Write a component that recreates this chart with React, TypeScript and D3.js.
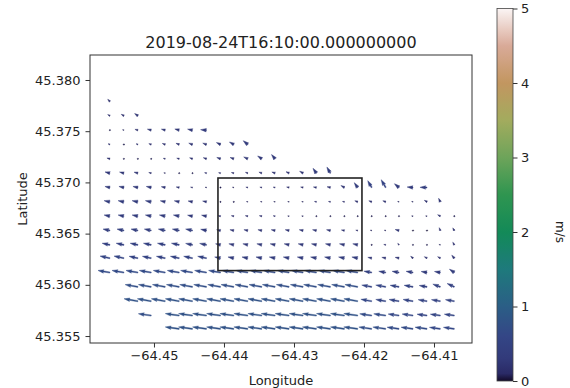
import React, { useEffect, useRef } from 'react';
import * as d3 from 'd3';

const _ = null;

// grid node longitudes (columns) and latitudes (rows, north to south)
const lons = [
  -64.4563, -64.4543, -64.4523, -64.4504, -64.4484, -64.4464, -64.4445, -64.4425, -64.4405,
  -64.4386, -64.4366, -64.4346, -64.4327, -64.4307, -64.4287, -64.4268, -64.4248, -64.4228,
  -64.4209, -64.4189, -64.4169, -64.415, -64.413, -64.411, -64.4091, -64.4071,
];
const lats = [
  45.3779, 45.3765, 45.3751, 45.3737, 45.3723, 45.3709, 45.3695, 45.3681, 45.3667,
  45.3653, 45.3639, 45.3626, 45.3612, 45.3598, 45.3584, 45.3570, 45.3557,
];

// current speed (m/s), null = no data
const speed: (number | null)[][] = [
  [0.17, _, _, _, _, _, _, _, _, _, _, _, _, _, _, _, _, _, _, _, _, _, _, _, _, _],
  [0.14, 0.17, 0.22, _, _, _, _, _, _, _, _, _, _, _, _, _, _, _, _, _, _, _, _, _, _, _],
  [0.06, 0.08, 0.17, 0.22, 0.22, 0.25, 0.28, 0.33, _, _, _, _, _, _, _, _, _, _, _, _, _, _, _, _, _, _],
  [0.11, 0.06, 0.11, 0.14, 0.17, 0.19, 0.22, 0.22, 0.25, 0.28, 0.33, _, _, _, _, _, _, _, _, _, _, _, _, _, _, _],
  [0.17, 0.06, 0.06, 0.06, 0.11, 0.14, 0.17, 0.19, 0.22, 0.22, 0.25, 0.28, 0.31, _, _, _, _, _, _, _, _, _, _, _, _, _],
  [0.28, 0.25, 0.22, 0.14, 0.08, 0.06, 0.06, 0.11, 0.11, 0.14, 0.14, 0.17, 0.19, 0.19, 0.22, 0.33, 0.39, _, _, _, _, _, _, _, _, _],
  [0.28, 0.28, 0.28, 0.28, 0.22, 0.17, 0.11, 0.08, 0.06, 0.08, 0.11, 0.11, 0.11, 0.14, 0.14, 0.17, 0.19, 0.22, 0.33, 0.44, 0.5, 0.33, 0.33, 0.39, _, _],
  [0.33, 0.33, 0.33, 0.33, 0.28, 0.28, 0.25, 0.22, 0.06, 0.06, 0.08, 0.08, 0.08, 0.08, 0.08, 0.11, 0.11, 0.11, 0.17, 0.17, 0.17, 0.08, 0.08, 0.17, 0.22, _],
  [0.33, 0.33, 0.33, 0.33, 0.33, 0.33, 0.28, 0.28, 0.14, 0.14, 0.14, 0.14, 0.11, 0.08, 0.08, 0.06, 0.06, 0.06, 0.06, 0.06, 0.06, 0.06, 0.08, 0.08, 0.17, 0.06],
  [0.39, 0.39, 0.39, 0.39, 0.39, 0.39, 0.39, 0.33, 0.22, 0.22, 0.22, 0.22, 0.22, 0.22, 0.22, 0.22, 0.22, 0.17, 0.11, 0.08, 0.08, 0.22, 0.03, 0.03, 0.17, 0.17],
  [0.44, 0.44, 0.44, 0.44, 0.44, 0.44, 0.39, 0.39, 0.28, 0.28, 0.28, 0.28, 0.28, 0.28, 0.28, 0.28, 0.28, 0.28, 0.28, 0.06, 0.11, 0.11, 0.06, 0.06, 0.08, 0.17],
  [0.56, 0.56, 0.5, 0.5, 0.5, 0.5, 0.5, 0.5, 0.33, 0.33, 0.33, 0.33, 0.33, 0.33, 0.33, 0.33, 0.33, 0.33, 0.33, 0.22, 0.22, 0.22, 0.17, 0.17, 0.17, 0.22],
  [0.67, 0.67, 0.67, 0.67, 0.67, 0.67, 0.67, 0.67, 0.67, 0.67, 0.67, 0.67, 0.67, 0.67, 0.67, 0.67, 0.67, 0.67, 0.67, 0.44, 0.39, 0.39, 0.39, 0.33, 0.33, 0.33],
  [_, _, 0.72, 0.72, 0.72, 0.72, 0.72, 0.72, 0.72, 0.72, 0.72, 0.72, 0.72, 0.72, 0.72, 0.72, 0.72, 0.72, 0.72, 0.56, 0.56, 0.5, 0.5, 0.44, 0.44, 0.44],
  [_, _, 0.78, 0.78, 0.78, 0.78, 0.78, 0.78, 0.78, 0.78, 0.78, 0.78, 0.78, 0.78, 0.78, 0.78, 0.78, 0.78, 0.78, 0.61, 0.56, 0.56, 0.56, 0.5, 0.5, 0.5],
  [_, _, _, 0.72, _, 0.78, 0.78, 0.78, 0.78, 0.78, 0.78, 0.78, 0.78, 0.78, 0.78, 0.78, 0.78, 0.78, 0.78, 0.67, 0.67, 0.61, 0.61, 0.56, 0.56, 0.56],
  [_, _, _, _, _, 0.78, 0.78, 0.78, 0.78, 0.78, 0.78, 0.78, 0.78, 0.78, 0.78, 0.78, 0.78, 0.78, 0.78, 0.72, 0.72, 0.67, 0.67, 0.67, 0.61, 0.61],
];

// flow direction, degrees counter-clockwise from east
const heading: number[][] = [
  [135, 165, 165, 165, 165, 165, 165, 165, 165, 165, 165, 165, 165, 165, 165, 165, 165, 165, 165, 165, 165, 165, 165, 165, 165, 165],
  [150, 150, 145, 165, 165, 165, 165, 165, 165, 165, 165, 165, 165, 165, 165, 165, 165, 165, 165, 165, 165, 165, 165, 165, 165, 165],
  [165, 165, 165, 165, 165, 165, 168, 175, 165, 165, 165, 165, 165, 165, 165, 165, 165, 165, 165, 165, 165, 165, 165, 165, 165, 165],
  [160, 165, 160, 160, 160, 160, 160, 160, 155, 150, 140, 165, 165, 165, 165, 165, 165, 165, 165, 165, 165, 165, 165, 165, 165, 165],
  [165, 165, 165, 165, 165, 165, 160, 160, 160, 160, 155, 145, 130, 165, 165, 165, 165, 165, 165, 165, 165, 165, 165, 165, 165, 165],
  [165, 165, 165, 165, 165, 165, 165, 165, 165, 165, 160, 160, 160, 155, 150, 125, 120, 165, 165, 165, 165, 165, 165, 165, 165, 165],
  [168, 168, 168, 168, 168, 168, 168, 168, 168, 168, 168, 168, 168, 168, 168, 168, 168, 150, 125, 120, 120, 140, 175, 178, 165, 165],
  [168, 168, 168, 168, 168, 168, 168, 168, 168, 168, 168, 168, 168, 168, 168, 168, 168, 168, 160, 160, 160, 165, 165, 150, 115, 165],
  [168, 168, 168, 168, 168, 168, 168, 168, 168, 168, 168, 168, 168, 168, 168, 168, 168, 168, 168, 168, 168, 168, 168, 168, 150, 120],
  [168, 168, 168, 168, 168, 168, 168, 168, 168, 168, 168, 168, 168, 168, 168, 168, 168, 168, 168, 168, 168, 165, 165, 165, 110, 120],
  [168, 168, 168, 168, 168, 168, 168, 168, 168, 168, 168, 168, 168, 168, 168, 168, 168, 168, 168, 168, 168, 130, 165, 165, 165, 120],
  [168, 168, 168, 168, 168, 168, 168, 168, 168, 168, 168, 168, 168, 168, 168, 168, 168, 168, 168, 168, 168, 168, 140, 150, 150, 130],
  [170, 170, 170, 170, 170, 170, 170, 170, 170, 170, 170, 170, 170, 170, 170, 170, 170, 170, 170, 170, 170, 170, 170, 170, 170, 145],
  [170, 170, 170, 170, 170, 170, 170, 170, 170, 170, 170, 170, 170, 170, 170, 170, 170, 170, 170, 170, 170, 170, 170, 170, 160, 155],
  [170, 170, 170, 170, 170, 170, 170, 170, 170, 170, 170, 170, 170, 170, 170, 170, 170, 170, 170, 170, 170, 170, 170, 170, 170, 170],
  [172, 172, 172, 172, 172, 172, 172, 172, 172, 172, 172, 172, 172, 172, 172, 172, 172, 172, 172, 172, 172, 172, 172, 172, 172, 172],
  [172, 172, 172, 172, 172, 172, 172, 172, 172, 172, 172, 172, 172, 172, 172, 172, 172, 172, 172, 172, 172, 172, 172, 172, 172, 172],
];

const lonTicks = [-64.45, -64.44, -64.43, -64.42, -64.41];
const latTicks = [45.355, 45.36, 45.365, 45.37, 45.375, 45.38];
const speedTicks = [0, 1, 2, 3, 4, 5];
const boxLon = [-64.44086, -64.42029];
const boxLat = [45.36139, 45.37043];
const title = '2019-08-24T16:10:00.000000000';

// gist_earth-like colormap stops (fraction of 0..5 m/s)
const cmapPos = [0, 0.02, 0.06, 0.12, 0.2, 0.3, 0.4, 0.5, 0.6, 0.7, 0.8, 0.9, 1];
const cmapCol = ['#120a28', '#2a2a66', '#323a7a', '#344686', '#2b5e86', '#1e7a7c', '#138a58', '#2f9550', '#6da45a', '#a3ab5e', '#c29660', '#d9aa98', '#fbf5f5'];

export default function App() {
  const ref = useRef<SVGSVGElement>(null);

  useEffect(() => {
    if (!ref.current) return;
    const svg = d3.select(ref.current);
    svg.selectAll('*').remove();

    const font = 'DejaVu Sans, sans-serif';
    const left = 90, right = 472, top = 55, bottom = 343;

    const x = d3.scaleLinear().domain([-64.45914, -64.40457]).range([left, right]);
    const y = d3.scaleLinear().domain([45.35432, 45.38244]).range([bottom, top]);
    const cmap = d3.scaleLinear<string>().domain(cmapPos).range(cmapCol).interpolate(d3.interpolateRgb);
    const pxPerMs = 18; // quiver scale

    svg.append('rect').attr('width', 570).attr('height', 388).attr('fill', '#fff');

    // arrows (matplotlib quiver proportions)
    const w = 1.15, hl = 5 * w, hal = 4.5 * w, hw = 3 * w;
    const arrows: { cx: number; cy: number; len: number; ang: number; s: number }[] = [];
    speed.forEach((row, r) => row.forEach((s, c) => {
      if (s == null) return;
      arrows.push({ cx: x(lons[c]), cy: y(lats[r]), len: s * pxPerMs, ang: heading[r][c], s });
    }));

    const arrowPath = (L: number) => {
      if (L < w) {
        const rr = w * 0.6;
        return d3.range(6).map(i => [rr * Math.cos(i * Math.PI / 3), rr * Math.sin(i * Math.PI / 3)]);
      }
      const k = L < hl ? L / hl : 1;
      const sw = w * k, h1 = hl * k, h2 = hal * k, hh = hw * k;
      return [
        [0, -sw / 2], [L - h2, -sw / 2], [L - h1, -hh / 2], [L, 0],
        [L - h1, hh / 2], [L - h2, sw / 2], [0, sw / 2],
      ];
    };

    svg.append('g')
      .selectAll('polygon')
      .data(arrows)
      .enter().append('polygon')
      .attr('points', d => arrowPath(d.len).map(p => p.join(',')).join(' '))
      .attr('transform', d => `translate(${d.cx},${d.cy}) rotate(${-d.ang})`)
      .attr('fill', d => cmap(d.s / 5))
      .attr('stroke', d => cmap(d.s / 5))
      .attr('stroke-width', 0.4);

    // highlighted box
    svg.append('rect')
      .attr('x', x(boxLon[0]))
      .attr('y', y(boxLat[1]))
      .attr('width', x(boxLon[1]) - x(boxLon[0]))
      .attr('height', y(boxLat[0]) - y(boxLat[1]))
      .attr('fill', 'none')
      .attr('stroke', '#222')
      .attr('stroke-width', 1.6);

    // frame
    svg.append('rect')
      .attr('x', left).attr('y', top)
      .attr('width', right - left).attr('height', bottom - top)
      .attr('fill', 'none').attr('stroke', '#333').attr('stroke-width', 1);

    const styleAxis = (g: d3.Selection<SVGGElement, unknown, null, undefined>) => {
      g.select('.domain').remove();
      g.selectAll('line').attr('stroke', '#333');
      g.selectAll('text').attr('fill', '#222').attr('font-family', font).attr('font-size', 13);
    };

    svg.append('g')
      .attr('transform', `translate(0,${bottom})`)
      .call(d3.axisBottom(x).tickValues(lonTicks).tickFormat(d => d3.format('.2f')(d as number)).tickSize(4.5).tickPadding(3.5))
      .call(styleAxis);

    svg.append('g')
      .attr('transform', `translate(${left},0)`)
      .call(d3.axisLeft(y).tickValues(latTicks).tickFormat(d => d3.format('.3f')(d as number)).tickSize(4.5).tickPadding(5))
      .call(styleAxis);

    svg.append('text')
      .attr('x', (left + right) / 2).attr('y', 48)
      .attr('text-anchor', 'middle')
      .attr('font-family', font).attr('font-size', 16).attr('fill', '#222')
      .text(title);

    svg.append('text')
      .attr('x', (left + right) / 2).attr('y', 385)
      .attr('text-anchor', 'middle')
      .attr('font-family', font).attr('font-size', 13).attr('fill', '#222')
      .text('Longitude');

    svg.append('text')
      .attr('transform', `translate(27,${(top + bottom) / 2}) rotate(-90)`)
      .attr('text-anchor', 'middle')
      .attr('font-family', font).attr('font-size', 13).attr('fill', '#222')
      .text('Latitude');

    // colorbar
    const cbX = 497, cbW = 16;
    const cy = d3.scaleLinear().domain([0, 5]).range([381, 8.5]);
    const grad = svg.append('defs').append('linearGradient')
      .attr('id', 'cbgrad').attr('x1', 0).attr('y1', 1).attr('x2', 0).attr('y2', 0);
    d3.range(0, 1.0001, 0.02).forEach(t => {
      grad.append('stop').attr('offset', t).attr('stop-color', cmap(t));
    });
    svg.append('rect')
      .attr('x', cbX).attr('y', cy(5))
      .attr('width', cbW).attr('height', cy(0) - cy(5))
      .attr('fill', 'url(#cbgrad)')
      .attr('stroke', '#444').attr('stroke-width', 0.8);

    svg.append('g')
      .attr('transform', `translate(${cbX + cbW},0)`)
      .call(d3.axisRight(cy).tickValues(speedTicks).tickFormat(d3.format('d')).tickSize(4.5).tickPadding(3.5))
      .call(styleAxis);

    svg.append('text')
      .attr('transform', `translate(556,232) rotate(90)`)
      .attr('text-anchor', 'middle')
      .attr('font-family', font).attr('font-size', 12).attr('fill', '#222')
      .text('m/s');
  }, []);

  return (
    <svg ref={ref} width={570} height={388} style={{ position: 'absolute', left: 0, top: 0, display: 'block' }} />
  );
}
